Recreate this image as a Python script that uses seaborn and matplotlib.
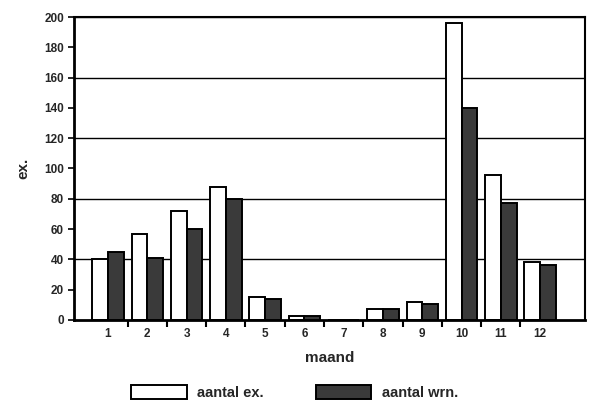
import matplotlib
matplotlib.use("Agg")
import matplotlib.pyplot as plt
import seaborn as sns
import pandas as pd
import numpy as np
from matplotlib.ticker import FixedLocator

months = ["1", "2", "3", "4", "5", "6", "7", "8", "9", "10", "11", "12"]
aantal_ex = [40, 57, 72, 88, 15, 2.5, 0, 7.5, 12, 196, 96, 38.5]
aantal_wrn = [45, 41, 60, 80, 14, 2.5, 0, 7.5, 10.5, 140, 77, 36.5]
series_names = ["aantal ex.", "aantal wrn."]
y_ticks = [0, 20, 40, 60, 80, 100, 120, 140, 160, 180, 200]
grid_lines = [40, 80, 120, 160, 200]

df = pd.DataFrame({
    "maand": months * 2,
    "value": aantal_ex + aantal_wrn,
    "serie": [series_names[0]] * len(months) + [series_names[1]] * len(months),
})

sns.set_style("white")
plt.rcParams["font.family"] = ["Liberation Sans", "DejaVu Sans"]
plt.rcParams["font.weight"] = "bold"

fig = plt.figure(figsize=(5.95, 4.05), dpi=100)
ax = fig.add_axes([0.124, 0.210, 0.859, 0.748])

sns.barplot(data=df, x="maand", y="value", hue="serie", order=months,
            hue_order=series_names,
            palette={series_names[0]: "white", series_names[1]: "#3a3a3a"},
            width=0.8, edgecolor="black", linewidth=1.4, ax=ax, legend=True)

for y in grid_lines:
    ax.axhline(y, color="black", lw=1.0, zorder=0)

ax.set_ylim(0, 200)
ax.set_xlim(-0.87, 12.14)
ax.set_yticks(y_ticks)
ax.set_yticklabels([str(t) for t in y_ticks], fontsize=8.5, fontweight="bold")
ax.set_xticks(range(len(months)))
ax.set_xticklabels(months, fontsize=8.5, fontweight="bold")
ax.xaxis.set_minor_locator(FixedLocator(np.arange(0.5, 11.0, 1.0)))
ax.tick_params(axis="x", which="major", bottom=True, length=0, pad=6)
ax.tick_params(axis="x", which="minor", bottom=True, length=5, width=1.5,
               direction="out", color="black")
ax.tick_params(axis="y", which="major", left=True, length=4, width=1.2,
               direction="out", color="black", pad=3)

for side in ["left", "bottom"]:
    ax.spines[side].set_linewidth(2.0)
    ax.spines[side].set_color("black")
for side in ["top", "right"]:
    ax.spines[side].set_linewidth(1.5)
    ax.spines[side].set_color("black")

ax.set_xlabel("maand", fontsize=11, fontweight="bold", labelpad=8)
ax.set_ylabel("ex.", fontsize=11, fontweight="bold", labelpad=10)

handles, labels = ax.get_legend_handles_labels()
ax.get_legend().remove()
fig.legend(handles, labels, loc="center", bbox_to_anchor=(0.495, 0.032), ncol=2,
           frameon=False, handlelength=3.8, handleheight=1.1, handletextpad=0.7,
           columnspacing=3.6, prop={"size": 10.5, "weight": "bold"})

fig.savefig("out.png", dpi=100)
